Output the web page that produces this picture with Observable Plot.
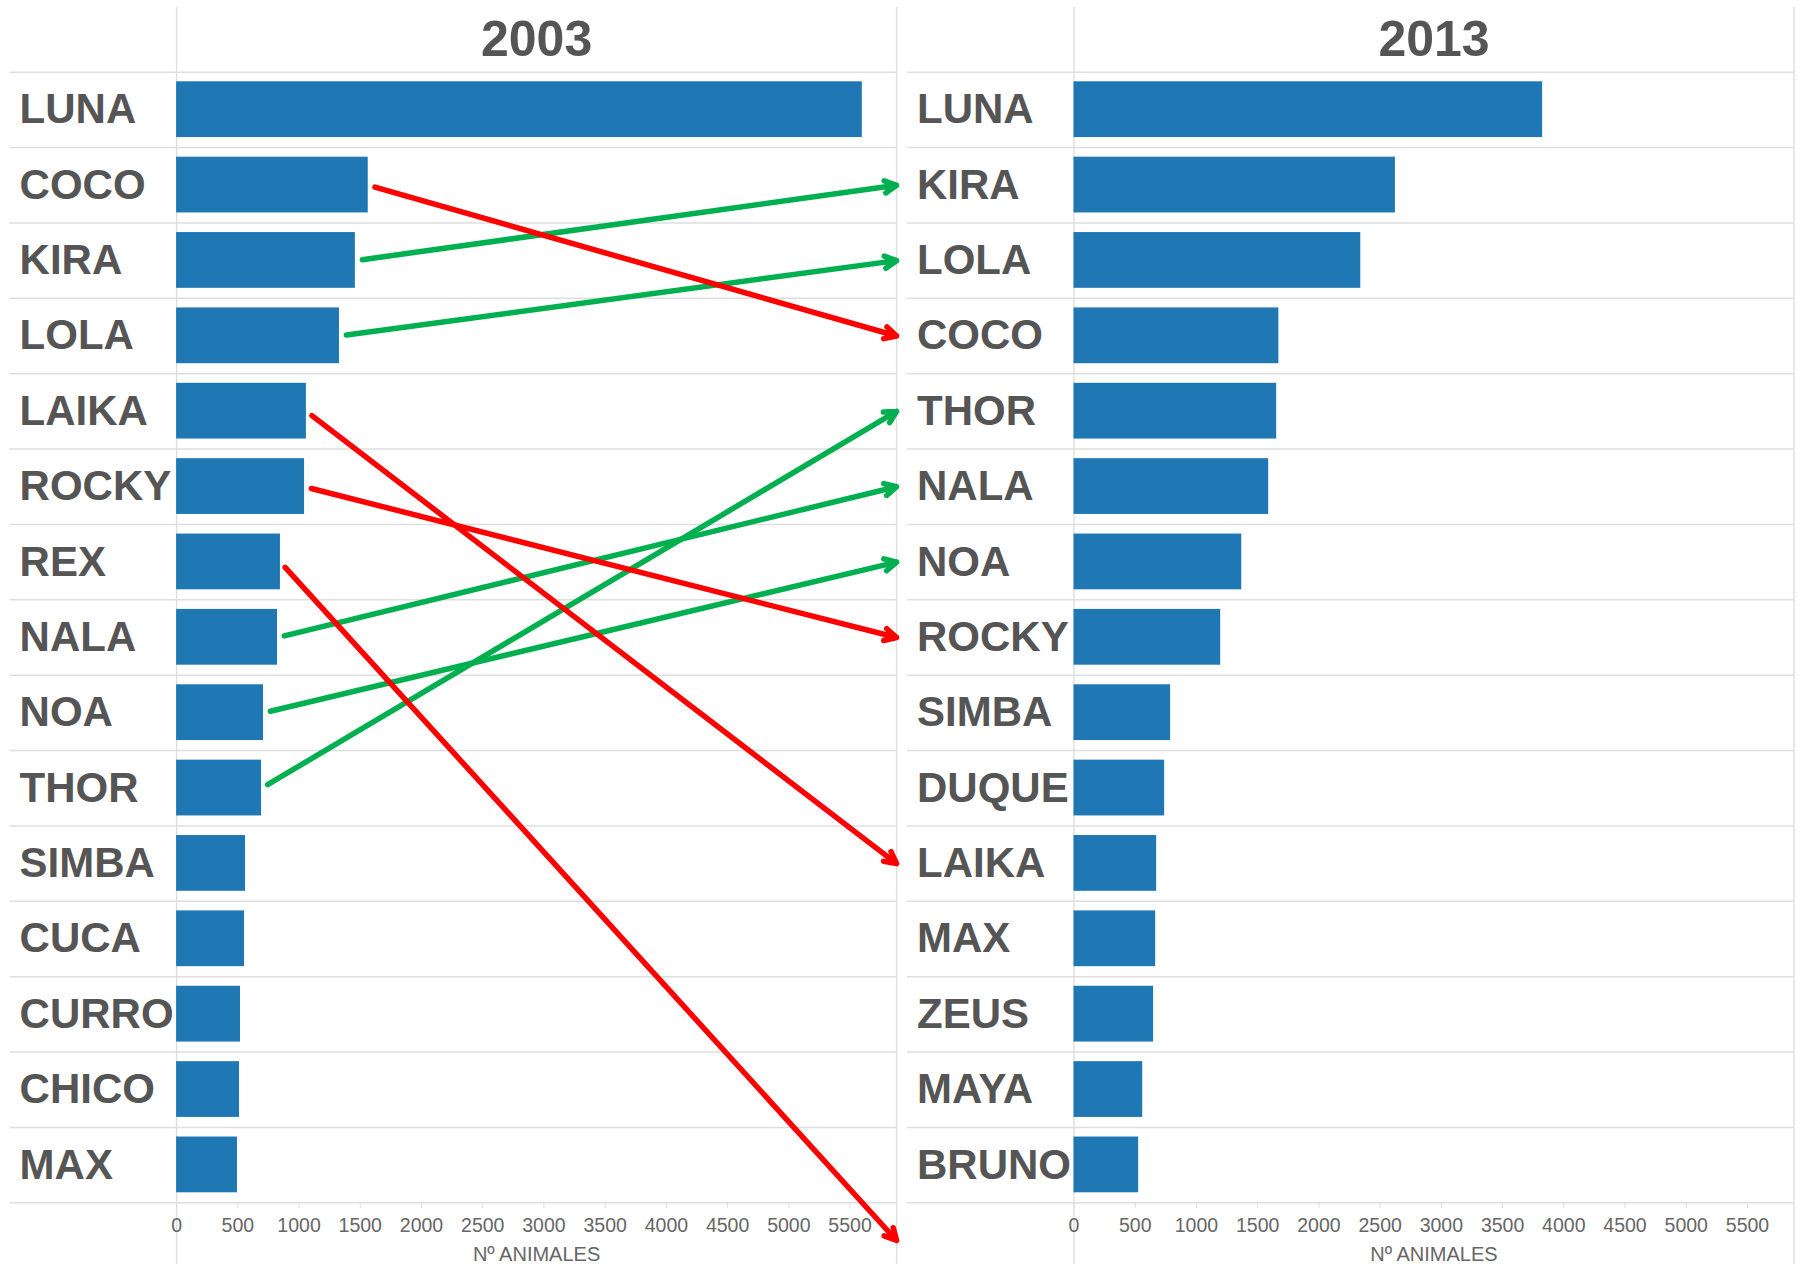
<!DOCTYPE html>
<html>
<head>
<meta charset="utf-8">
<script src="https://cdn.jsdelivr.net/npm/d3@7"></script>
<script src="https://cdn.jsdelivr.net/npm/@observablehq/plot@0.6"></script>
<style>
  html, body { margin: 0; padding: 0; background: #fff; }
  #chart svg { display: block; }
</style>
</head>
<body>
<div id="chart"></div>
<script>
// ---- data ----
const years = ["2003", "2013"];
const names2003 = ["LUNA","COCO","KIRA","LOLA","LAIKA","ROCKY","REX","NALA","NOA","THOR","SIMBA","CUCA","CURRO","CHICO","MAX"];
const values2003 = [5600, 1565, 1460, 1330, 1060, 1045, 848, 824, 710, 694, 563, 555, 522, 514, 497];
const names2013 = ["LUNA","KIRA","LOLA","COCO","THOR","NALA","NOA","ROCKY","SIMBA","DUQUE","LAIKA","MAX","ZEUS","MAYA","BRUNO"];
const values2013 = [3827, 2625, 2342, 1673, 1655, 1590, 1370, 1198, 789, 740, 675, 667, 650, 561, 528];
const movers = ["COCO","KIRA","LOLA","LAIKA","ROCKY","REX","NALA","NOA","THOR"];
const xTicks = [0,500,1000,1500,2000,2500,3000,3500,4000,4500,5000,5500];
const xMax = 5880;
const axisTitle = "Nº ANIMALES";

// ---- derived tables ----
const rows = [
  ...names2003.map((name, i) => ({year: "2003", name, value: values2003[i], rank: i + 1})),
  ...names2013.map((name, i) => ({year: "2013", name, value: values2013[i], rank: i + 1}))
];
const nRows = names2003.length;
const arrows = movers.map(name => {
  const i = names2003.indexOf(name);
  const j = names2013.indexOf(name);
  const r2 = j < 0 ? nRows + 1 : j + 1;
  return {year: "2003", name, value: values2003[i], r1: i + 1, r2, up: r2 < i + 1};
});
const boundaries = d3.range(0, nRows + 1).map(k => k + 0.5);

const W = 1799, H = 1264;
const mL = 176.1, mR = 5.5, mT = 71.7, mB = 61.7;
const grid = "#dedede";
const textCol = "#555555";

const chart = Plot.plot({
  width: W,
  height: H,
  marginLeft: mL,
  marginRight: mR,
  marginTop: mT,
  marginBottom: mB,
  style: {fontFamily: "'Liberation Sans', Arial, sans-serif", background: "white", overflow: "visible"},
  fx: {domain: years, paddingInner: 0.1977, paddingOuter: 0, round: false, label: null},
  x: {domain: [0, xMax], axis: null},
  y: {domain: [0.5, nRows + 0.5], reverse: true, axis: null},
  marks: [
    Plot.ruleY(boundaries, {y: d => d, stroke: grid, strokeWidth: 1.4, insetLeft: -166.4}),
    Plot.ruleX(years.map(y => ({year: y, v: 0})), {fx: "year", x: "v", stroke: grid, strokeWidth: 1.4, insetTop: -64.7, insetBottom: -mB}),
    Plot.ruleX(years.map(y => ({year: y, v: xMax})), {fx: "year", x: "v", stroke: grid, strokeWidth: 1.4, insetTop: -64.7, insetBottom: -mB}),
    Plot.rect(rows, {
      fx: "year", x1: 0, x2: "value",
      y1: d => d.rank - 0.5, y2: d => d.rank + 0.5,
      insetTop: 9.6, insetBottom: 10, fill: "#1f77b4"
    }),
    Plot.text(rows, {
      fx: "year", y: "rank", text: "name", frameAnchor: "left",
      textAnchor: "start", dx: -157, fontSize: 42, fontWeight: "bold", fill: textCol
    }),
    Plot.axisFx({anchor: "top", tickSize: 0, tickPadding: 15.7, fontSize: 50, fontWeight: "bold", color: textCol, label: null}),
    Plot.axisX({ticks: xTicks, tickSize: 6, tickPadding: 9, stroke: grid, fill: "#666666", fontSize: 19.5, tickFormat: d => String(d), label: null}),
    Plot.text(years.map(y => ({year: y})), {
      fx: "year", text: () => axisTitle, frameAnchor: "bottom",
      lineAnchor: "bottom", dy: 58.5, fontSize: 20, fill: "#666666"
    }),
    Plot.arrow(arrows.filter(d => d.up), {
      fx: "year", x1: "value", y1: "r1", x2: xMax, y2: "r2",
      stroke: "#00b050", strokeWidth: 5.5, headLength: 3.6, headAngle: 55, insetStart: 7
    }),
    Plot.arrow(arrows.filter(d => !d.up), {
      fx: "year", x1: "value", y1: "r1", x2: xMax, y2: "r2",
      stroke: "#ff0000", strokeWidth: 5.5, headLength: 3.6, headAngle: 55, insetStart: 7
    })
  ]
});
document.getElementById("chart").appendChild(chart);
</script>
</body>
</html>
